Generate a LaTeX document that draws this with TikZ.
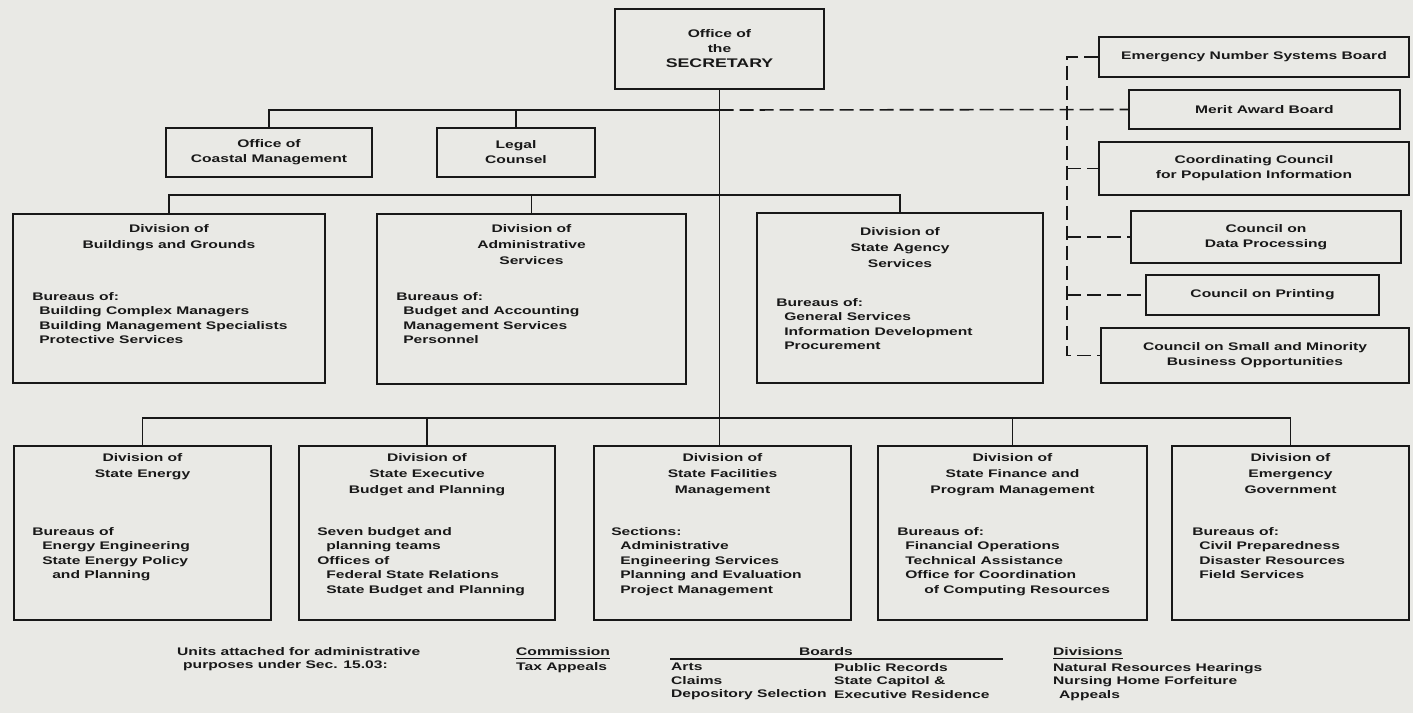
\documentclass[tikz,border=0pt]{standalone}
\usepackage{fontspec}
\setmainfont{Liberation Sans Bold}[FakeStretch=1.42]
\usetikzlibrary{calc}
\definecolor{paper}{RGB}{233,233,229}
\definecolor{ink}{RGB}{24,24,24}
\newcommand\bxfont{\fontsize{11}{15}\selectfont}
\newcommand\lsfont{\fontsize{11}{14.5}\selectfont}
\newcommand\ttfnt{\fontsize{11}{16}\selectfont}
\newcommand\ftfont{\fontsize{11}{13.5}\selectfont}
\newcommand\orgbox[6]{\node[box, minimum width={#4-#2}, minimum height={#5-#3}] (#1) at ({(#2+#4)/2},{(#3+#5)/2}) {#6};}
\begin{document}
\begin{tikzpicture}[x=1pt,y=-1pt,
  box/.style={draw=ink, line width=1.8pt, inner sep=0pt, align=center, font=\bxfont, text=ink},
  ttl/.style={inner sep=0pt, align=center, font=\ttfnt, text=ink, anchor=north},
  lst/.style={inner sep=0pt, align=left, font=\lsfont, text=ink, anchor=north west},
  ft/.style={inner sep=0pt, align=left, font=\ftfont, text=ink, anchor=north west},
  ln/.style={draw=ink, line width=1.5pt},
  dsh/.style={draw=ink, line width=1.6pt, dash pattern=on 14pt off 6pt},
  ul/.style={draw=ink, line width=1.2pt}]
\fill[paper] (0,0) rectangle (1413,713);
\useasboundingbox (0,0) rectangle (1413,713);

% top level
\orgbox{sec}{615}{9}{824}{89}{Office of\\the\\{\fontsize{12.5}{16}\selectfont SECRETARY}}
\orgbox{coastal}{166}{128}{372}{177}{Office of\\Coastal Management}
\orgbox{legal}{437}{128}{595}{177}{Legal\\Counsel}

% attached boards
\orgbox{emerg}{1099}{37}{1409}{77}{Emergency Number Systems Board}
\orgbox{merit}{1129}{90}{1400}{129}{Merit Award Board}
\orgbox{coordc}{1099}{142}{1409}{195}{Coordinating Council\\for Population Information}
\orgbox{dataproc}{1131}{211}{1401}{263}{Council on\\Data Processing}
\orgbox{printing}{1146}{275}{1379}{315}{Council on Printing}
\orgbox{small}{1101}{328}{1409}{383}{Council on Small and Minority\\Business Opportunities}

% second row
\orgbox{bldg}{13}{214}{325}{383}{}
\orgbox{admin}{377}{214}{686}{384}{}
\orgbox{agency}{757}{213}{1043}{383}{}
\node[ttl] (bldg-t) at ($(bldg.north)+(0,11)$) {Division of\\Buildings and Grounds};
\node[lst] (bldg-l) at ($(bldg.north west)+(20,79)$) {Bureaus of:\\\hspace*{7pt}Building Complex Managers\\\hspace*{7pt}Building Management Specialists\\\hspace*{7pt}Protective Services};
\node[ttl] (admin-t) at ($(admin.north)+(0,11)$) {Division of\\Administrative\\Services};
\node[lst] (admin-l) at ($(admin.north west)+(20,79)$) {Bureaus of:\\\hspace*{7pt}Budget and Accounting\\\hspace*{7pt}Management Services\\\hspace*{7pt}Personnel};
\node[ttl] (agency-t) at ($(agency.north)+(0,15)$) {Division of\\State Agency\\Services};
\node[lst] (agency-l) at ($(agency.north west)+(20,86)$) {Bureaus of:\\\hspace*{8pt}General Services\\\hspace*{8pt}Information Development\\\hspace*{8pt}Procurement};

% third row
\orgbox{energy}{14}{446}{271}{620}{}
\orgbox{exec}{299}{446}{555}{620}{}
\orgbox{fac}{594}{446}{851}{620}{}
\orgbox{fin}{878}{446}{1147}{620}{}
\orgbox{emgov}{1172}{446}{1409}{620}{}
\node[ttl] (energy-t) at ($(energy.north)+(0,8)$) {Division of\\State Energy};
\node[lst] (energy-l) at ($(energy.north west)+(19,82)$) {Bureaus of\\\hspace*{10pt}Energy Engineering\\\hspace*{10pt}State Energy Policy\\\hspace*{20pt}and Planning};
\node[ttl] (exec-t) at ($(exec.north)+(0,8)$) {Division of\\State Executive\\Budget and Planning};
\node[lst] (exec-l) at ($(exec.north west)+(19,82)$) {Seven budget and\\\hspace*{9pt}planning teams\\Offices of\\\hspace*{9pt}Federal State Relations\\\hspace*{9pt}State Budget and Planning};
\node[ttl] (fac-t) at ($(fac.north)+(0,8)$) {Division of\\State Facilities\\Management};
\node[lst] (fac-l) at ($(fac.north west)+(18,82)$) {Sections:\\\hspace*{9pt}Administrative\\\hspace*{9pt}Engineering Services\\\hspace*{9pt}Planning and Evaluation\\\hspace*{9pt}Project Management};
\node[ttl] (fin-t) at ($(fin.north)+(0,8)$) {Division of\\State Finance and\\Program Management};
\node[lst] (fin-l) at ($(fin.north west)+(20,82)$) {Bureaus of:\\\hspace*{8pt}Financial Operations\\\hspace*{8pt}Technical Assistance\\\hspace*{8pt}Office for Coordination\\\hspace*{27pt}of Computing Resources};
\node[ttl] (emgov-t) at ($(emgov.north)+(0,8)$) {Division of\\Emergency\\Government};
\node[lst] (emgov-l) at ($(emgov.north west)+(21,82)$) {Bureaus of:\\\hspace*{7pt}Civil Preparedness\\\hspace*{7pt}Disaster Resources\\\hspace*{7pt}Field Services};

% solid connectors
\coordinate (bus1) at (0,110);
\coordinate (bus2) at (0,195);
\coordinate (bus3) at (0,418);
\draw[ln] (sec.south) -- (sec.south |- fac.north);
\draw[ln] (coastal.north) |- (sec.south |- bus1);
\draw[ln] (legal.north) -- (legal.north |- bus1);
\draw[ln] (bldg.north) |- (agency.north |- bus2) -- (agency.north);
\draw[ln] (admin.north) -- (admin.north |- bus2);
\draw[ln] (energy.north) |- (emgov.north |- bus3) -- (emgov.north);
\draw[ln] (exec.north) -- (exec.north |- bus3);
\draw[ln] (fin.north) -- (fin.north |- bus3);

% dashed connectors
\coordinate (dv) at (1067,0);
\draw[dsh] (sec.south |- bus1) -- (merit.west);
\draw[dsh] (emerg.west) -- (emerg.west -| dv) -- (small.west -| dv) -- (small.west);
\draw[dsh] (coordc.west -| dv) -- (coordc.west);
\draw[dsh] (dataproc.west -| dv) -- (dataproc.west);
\draw[dsh] (printing.west -| dv) -- (printing.west);

% footer
\node[ft] (units) at (177,647) {Units attached for administrative\\\hspace*{6pt}purposes under Sec. 15.03:};
\node[ft] (commh) at (516,647) {Commission};
\draw[ul] ($(commh.south west)+(0,3)$) -- ($(commh.south east)+(0,3)$);
\node[ft] (taxap) at (516,662) {Tax Appeals};
\node[ft, anchor=north] (boardsh) at (826,647) {Boards};
\coordinate (brl) at (670,659);
\coordinate (brr) at (1003,659);
\draw[ul] (brl) -- (brr);
\node[ft] (boardsa) at (671,663) {Arts\\Claims\\Depository Selection};
\node[ft] (boardsb) at (834,663) {Public Records\\State Capitol \&\\Executive Residence};
\node[ft] (divh) at (1053,647) {Divisions};
\draw[ul] ($(divh.south west)+(0,3)$) -- ($(divh.south east)+(0,3)$);
\node[ft] (divs) at (1053,663) {Natural Resources Hearings\\Nursing Home Forfeiture\\\hspace*{6pt}Appeals};
\end{tikzpicture}
\end{document}
